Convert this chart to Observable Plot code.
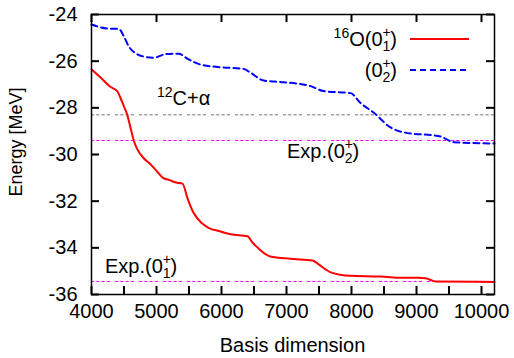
<!DOCTYPE html>
<html>
<head>
<meta charset="utf-8">
<script src="https://cdn.jsdelivr.net/npm/d3@7"></script>
<script src="https://cdn.jsdelivr.net/npm/@observablehq/plot@0.6"></script>
<style>
  html, body { margin: 0; padding: 0; background: #fff; }
  svg { display: block; }
</style>
</head>
<body>
<div id="chart"></div>
<script>
// ---- data ----
const groundX = [4000, 4140, 4290, 4400, 4450, 4500, 4550, 4600, 4650, 4700, 4800, 4900, 5000, 5100, 5200, 5300, 5400, 5480, 5570, 5700, 5800, 5985, 6140, 6400, 6470, 6570, 6750, 7060, 7400, 7500, 7600, 7680, 7985, 8450, 8700, 9015, 9140, 9210, 9290, 10200];
const groundE = [-26.35, -26.7, -27.1, -27.3, -27.6, -27.95, -28.3, -28.85, -29.4, -29.75, -30.15, -30.4, -30.7, -31.0, -31.1, -31.2, -31.25, -31.9, -32.5, -32.95, -33.14, -33.3, -33.42, -33.5, -33.75, -34.03, -34.37, -34.47, -34.54, -34.72, -34.92, -35.05, -35.2, -35.23, -35.28, -35.28, -35.3, -35.37, -35.44, -35.46];
const secondX = [4000, 4240, 4420, 4500, 4570, 4700, 4800, 4960, 5140, 5340, 5480, 5680, 5985, 6340, 6450, 6650, 6950, 7370, 7570, 7985, 8140, 8340, 8600, 8800, 9370, 9570, 10200];
const secondE = [-24.43, -24.6, -24.62, -24.95, -25.35, -25.7, -25.8, -25.85, -25.7, -25.68, -25.9, -26.15, -26.26, -26.33, -26.5, -26.83, -26.9, -27.07, -27.28, -27.37, -27.8, -28.2, -28.84, -29.05, -29.23, -29.47, -29.53];
const thresholdC12Alpha = -28.3;
const expSecond = -29.4;
const expGround = -35.44;
const xLabelTicks = [4000, 5000, 6000, 7000, 8000, 9000, 10000];
const xMinorTicks = [4000, 4500, 5000, 5500, 6000, 6500, 7000, 7500, 8000, 8500, 9000, 9500, 10000];
const yTicks = [-36, -34, -32, -30, -28, -26, -24];
const xDomain = [4000, 10200];
const yDomain = [-36, -24];

const ground = groundX.map((x, i) => ({x, e: groundE[i]}));
const second = secondX.map((x, i) => ({x, e: secondE[i]}));

const W = 514, H = 358;
const mL = 91, mR = 20, mT = 14, mB = 64;
const innerW = W - mL - mR, innerH = H - mT - mB;
const tickLen = 8; // px
const FONT = "Liberation Sans, Arial, Helvetica, sans-serif";
const FS = 20;

// tick length expressed in data units of each scale
const tickDX = tickLen * (xDomain[1] - xDomain[0]) / innerW;
const tickDY = tickLen * (yDomain[1] - yDomain[0]) / innerH;

const dotted = "3.25,2,3.25,2,3.25,2,3.25,5";

const plot = Plot.plot({
  width: W, height: H,
  marginLeft: mL, marginRight: mR, marginTop: mT, marginBottom: mB,
  style: {fontFamily: FONT, fontSize: FS + "px", color: "#000", background: "#fff"},
  x: {domain: xDomain, label: null},
  y: {domain: yDomain, label: null},
  marks: [
    Plot.ruleY([thresholdC12Alpha], {stroke: "#777", strokeWidth: 1, strokeDasharray: dotted}),
    Plot.ruleY([expSecond], {stroke: "#ff00ff", strokeWidth: 1, strokeDasharray: dotted}),
    Plot.ruleY([expGround], {stroke: "#ff00ff", strokeWidth: 1, strokeDasharray: dotted}),
    Plot.line(second, {x: "x", y: "e", stroke: "#0000ff", strokeWidth: 2, strokeDasharray: "6,4", curve: "monotone-x"}),
    Plot.line(ground, {x: "x", y: "e", stroke: "#ff0000", strokeWidth: 2, curve: "monotone-x"}),
    Plot.axisX(xLabelTicks, {anchor: "bottom", tickSize: 0, tickPadding: 9, tickFormat: d => String(d), label: null, fontSize: FS}),
    Plot.axisY(yTicks, {anchor: "left", tickSize: 0, tickPadding: 14, tickFormat: d => String(d), label: null, fontSize: FS}),
    Plot.frame({stroke: "#000", strokeWidth: 1.5}),
    // inward ticks: bottom every 500, top every 1000, left/right every 2 MeV
    Plot.ruleX(xMinorTicks, {x: d => d, y1: () => yDomain[0], y2: () => yDomain[0] + tickDY, stroke: "#000", strokeWidth: 2}),
    Plot.ruleX(xLabelTicks, {x: d => d, y1: () => yDomain[1] - tickDY, y2: () => yDomain[1], stroke: "#000", strokeWidth: 2}),
    Plot.ruleY(yTicks, {y: d => d, x1: () => xDomain[0], x2: () => xDomain[0] + tickDX, stroke: "#000", strokeWidth: 2}),
    Plot.ruleY(yTicks, {y: d => d, x1: () => xDomain[1] - tickDX, x2: () => xDomain[1], stroke: "#000", strokeWidth: 2})
  ]
});

document.getElementById("chart").appendChild(plot);

const svg = d3.select(plot);
const sx = plot.scale("x"), sy = plot.scale("y");
const g = svg.append("g").attr("font-family", FONT).attr("fill", "#000");

// rich text helper: parts = [[text, kind]], kind: "n" | "sup" | "supsub"
const SMALL = 14;
function rich(x, y, anchor, parts) {
  const t = g.append("text").attr("x", x).attr("y", y).attr("text-anchor", anchor).attr("font-size", FS);
  for (const [s, kind] of parts) {
    if (kind === "n") t.append("tspan").text(s);
    else if (kind === "sup") {
      t.append("tspan").attr("dy", -8).attr("font-size", SMALL).text(s);
      t.append("tspan").attr("dy", 8).text("\u200b");
    } else if (kind === "supsub") {
      const [a, b] = s;
      t.append("tspan").attr("dy", -9).attr("font-size", SMALL).text(a);
      t.append("tspan").attr("dx", -0.584 * SMALL).attr("dy", 14).attr("font-size", SMALL).text(b);
      t.append("tspan").attr("dy", -5).text("\u200b");
    }
  }
  return t;
}

// annotations (anchored in data coordinates)
rich(sx.apply(5015), sy.apply(-27.9), "start", [["12", "sup"], ["C+\u03b1", "n"]]);
rich(sx.apply(7015), sy.apply(-30.17), "start", [["Exp.(0", "n"], [["+", "2"], "supsub"], [")", "n"]]);
rich(sx.apply(4215), sy.apply(-35.1), "start", [["Exp.(0", "n"], [["+", "1"], "supsub"], [")", "n"]]);

// legend
rich(397, 46, "end", [["16", "sup"], ["O(0", "n"], [["+", "1"], "supsub"], [")", "n"]]);
rich(397, 77, "end", [["(0", "n"], [["+", "2"], "supsub"], [")", "n"]]);
g.append("line").attr("x1", 410).attr("x2", 469).attr("y1", 39).attr("y2", 39).attr("stroke", "#ff0000").attr("stroke-width", 2);
g.append("line").attr("x1", 410).attr("x2", 469).attr("y1", 70).attr("y2", 70).attr("stroke", "#0000ff").attr("stroke-width", 2).attr("stroke-dasharray", "6,4");

// axis titles
g.append("text").attr("x", mL + innerW / 2).attr("y", 352).attr("text-anchor", "middle").attr("font-size", FS).text("Basis dimension");
g.append("text").attr("transform", "translate(22,142) rotate(-90)").attr("text-anchor", "middle").attr("font-size", 18).text("Energy [MeV]");
</script>
</body>
</html>
